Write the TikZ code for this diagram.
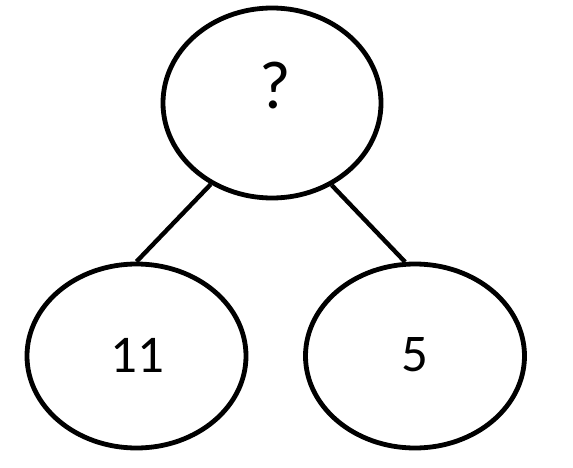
\documentclass[tikz,border=0pt]{standalone}
\usepackage{fontspec}
\setmainfont{Carlito}
\usetikzlibrary{shapes.geometric}
\tikzset{
  bubble/.style={draw=black, line width=4.8pt, ellipse, inner sep=0pt, fill=white},
  lbl/.style={inner sep=0pt, font=\fontsize{53}{60}\selectfont},
  qlbl/.style={inner sep=0pt, font=\fontsize{68}{80}\selectfont},
  link/.style={draw=black, line width=4.4pt}
}
\begin{document}
\begin{tikzpicture}[x=1pt, y=-1pt]
  \useasboundingbox (0,0) rectangle (573,468);
  \node[bubble, minimum width=218pt, minimum height=190pt] (top) at (272,103) {};
  \node[bubble, minimum width=219pt, minimum height=184pt] (left) at (136.5,356) {};
  \node[bubble, minimum width=219pt, minimum height=184pt] (right) at (415,356) {};
  \node[qlbl] (q) at (275,86) {?};
  \node[lbl] (n11) at (137,355) {11};
  \node[lbl] (n5) at (415,355) {5};
  \draw[link] (top.233.8) -- (left.north);
  \draw[link] (top.306.2) -- (right.96);
\end{tikzpicture}
\end{document}
